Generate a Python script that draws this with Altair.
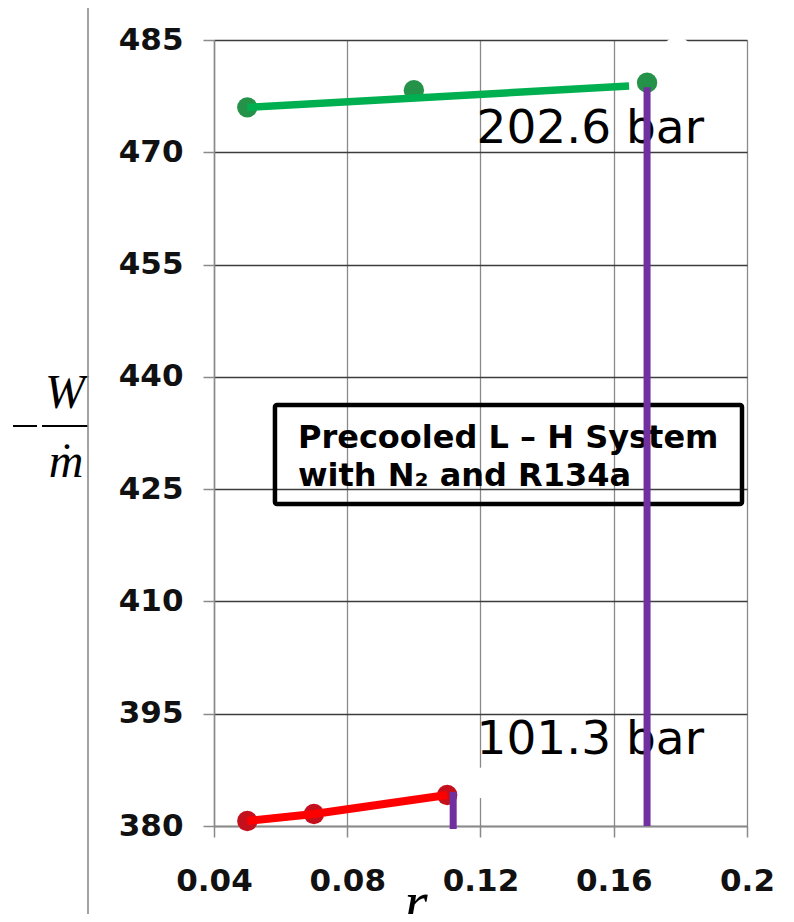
import altair as alt
import pandas as pd

# ---- data ----
green_r = [0.05, 0.10, 0.17]
green_w = [476.0, 478.3, 479.3]
green_line_r = [0.05, 0.1646]
green_line_w = [476.0, 478.85]

red_r = [0.05, 0.07, 0.11]
red_w = [380.67, 381.6, 384.14]

purple_r = [0.17, 0.1118]
purple_top = [478.7, 384.55]
purple_bottom = [380.0, 379.6]

white_r = [0.179, 0.1208]
white_w = [483.3, 385.75]

label_text = ["202.6 bar", "101.3 bar"]
label_r = [0.1188, 0.1188]
label_w = [471.2, 389.65]

box_r = [0.0583, 0.1985]
box_w = [423.0, 436.24]
box_lines = ["Precooled L \u2013 H System", "with N\u2082 and R134a"]
box_line_r = [0.0652, 0.0652]
box_line_w = [430.5, 425.4]

x_ticks = [0.04, 0.08, 0.12, 0.16, 0.2]
y_ticks = [380, 395, 410, 425, 440, 455, 470, 485]

AX = dict(labelFont="DejaVu Sans", labelFontWeight="bold", labelFontSize=31,
          labelColor="#111111", tickColor="#8a8a8a", tickWidth=1.5,
          domainColor="#8a8a8a", domainWidth=1.5, tickSize=11,
          labelFlush=False, labelOverlap=False, grid=True, title=None)

# ---- shared encodings ----
X = alt.X("r:Q",
          scale=alt.Scale(domain=[0.04, 0.2], nice=False, zero=False),
          axis=alt.Axis(values=x_ticks, format="~g",
                        gridColor="#8a8a8a", gridWidth=1.3,
                        labelPadding=29, **AX))
Y = alt.Y("w:Q",
          scale=alt.Scale(domain=[380, 485], nice=False, zero=False),
          axis=alt.Axis(values=y_ticks,
                        gridColor="#3c3c3c", gridWidth=1.6,
                        labelPadding=20, **AX))

green_pts = pd.DataFrame({"r": green_r, "w": green_w})
green_ln = pd.DataFrame({"r": green_line_r, "w": green_line_w})
red_pts = pd.DataFrame({"r": red_r, "w": red_w})
purple = pd.DataFrame({"r": purple_r, "w": purple_top, "w2": purple_bottom})
whites = pd.DataFrame({"r": white_r, "w": white_w})
labels = pd.DataFrame({"r": label_r, "w": label_w, "t": label_text})
box = pd.DataFrame({"r": [box_r[0]], "r2": [box_r[1]], "w": [box_w[0]], "w2": [box_w[1]]})
box_txt = pd.DataFrame({"r": box_line_r, "w": box_line_w, "t": box_lines})

g_markers = alt.Chart(green_pts).mark_circle(size=415, color="#259249", opacity=1).encode(x=X, y=Y)
r_markers = alt.Chart(red_pts).mark_circle(size=415, color="#c4101c", opacity=1).encode(x=X, y=Y)
g_line = alt.Chart(green_ln).mark_line(color="#00B050", strokeWidth=7.5).encode(x=X, y=Y)
r_line = alt.Chart(red_pts).mark_line(color="#FF0000", strokeWidth=8).encode(x=X, y=Y)

bar_labels = alt.Chart(labels).mark_text(
    font="DejaVu Sans", fontSize=47, align="left", baseline="alphabetic", color="black"
).encode(x=X, y=Y, text="t:N")

box_rect = alt.Chart(box).mark_rect(
    filled=False, stroke="black", strokeWidth=4.5, cornerRadius=2
).encode(x=X, x2="r2:Q", y=Y, y2="w2:Q")

box_text = alt.Chart(box_txt).mark_text(
    font="DejaVu Sans", fontWeight="bold", fontSize=32, align="left",
    baseline="alphabetic", color="black"
).encode(x=X, y=Y, text="t:N")

purple_rules = alt.Chart(purple).mark_rule(color="#7030A0", strokeWidth=7).encode(
    x=X, y=Y, y2="w2:Q")

white_dots = alt.Chart(whites).mark_circle(size=950, color="white", opacity=1).encode(x=X, y=Y)

# ---- axis-title pieces and outer frame (pixel positions relative to plot) ----
w_txt = alt.Chart(pd.DataFrame({"t": ["W"]})).mark_text(
    font="Liberation Serif", fontStyle="italic", fontSize=48,
    align="center", baseline="alphabetic", color="black").encode(
    x=alt.value(-149), y=alt.value(368), text="t:N")
m_txt = alt.Chart(pd.DataFrame({"t": ["m"]})).mark_text(
    font="Liberation Serif", fontStyle="italic", fontSize=48,
    align="center", baseline="alphabetic", color="black").encode(
    x=alt.value(-148), y=alt.value(437), text="t:N")
m_dot = alt.Chart(pd.DataFrame({"t": ["."]})).mark_text(
    font="Liberation Serif", fontSize=40, align="center",
    baseline="alphabetic", color="black").encode(
    x=alt.value(-147), y=alt.value(409), text="t:N")
frac = alt.Chart(pd.DataFrame({"t": [0]})).mark_rule(color="black", strokeWidth=2).encode(
    x=alt.value(-172), x2=alt.value(-126), y=alt.value(386))
minus = alt.Chart(pd.DataFrame({"t": [0]})).mark_rule(color="black", strokeWidth=2).encode(
    x=alt.value(-201), x2=alt.value(-177), y=alt.value(386))
r_txt = alt.Chart(pd.DataFrame({"t": ["r"]})).mark_text(
    font="Liberation Serif", fontStyle="italic", fontSize=60,
    align="center", baseline="alphabetic", color="black").encode(
    x=alt.value(202), y=alt.value(882), text="t:N")
frame_left = alt.Chart(pd.DataFrame({"t": [0]})).mark_rule(color="#8c8c8c", strokeWidth=1.6).encode(
    x=alt.value(-126), y=alt.value(-33), y2=alt.value(880))
frame_top = alt.Chart(pd.DataFrame({"t": [0]})).mark_rule(color="#8c8c8c", strokeWidth=1.6).encode(
    x=alt.value(-126), x2=alt.value(600), y=alt.value(-33))

chart = alt.layer(
    g_markers, r_markers, g_line, r_line, bar_labels, box_rect, box_text,
    purple_rules, white_dots,
    w_txt, m_txt, m_dot, frac, minus, r_txt, frame_left, frame_top
).properties(
    width=533, height=786,
    padding={"left": 206, "top": 32, "right": 39, "bottom": 88},
    autosize=alt.AutoSizeParams(type="none"),
    background="white",
).configure_view(stroke=None)

chart.save("out.html", embed_options={"renderer": "svg", "actions": False})
